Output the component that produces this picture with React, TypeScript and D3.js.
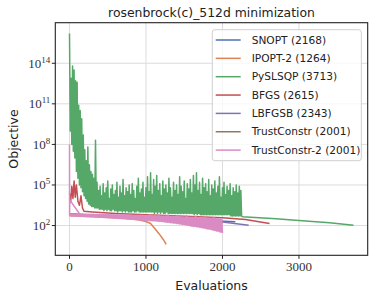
import React from "react";
import * as d3 from "d3";

// values are log10(objective)
const seriesNames = ["SNOPT (2168)", "IPOPT-2 (1264)", "PySLSQP (3713)", "BFGS (2615)", "LBFGSB (2343)", "TrustConstr (2001)", "TrustConstr-2 (2001)"];
const colors = ["#4C72B0", "#DD8452", "#55A868", "#C44E52", "#8172B3", "#937860", "#DA8BC3"];

const xTicks = [0, 1000, 2000, 3000];
const yTickExps = [2, 5, 8, 11, 14];

const snopt: [number, number][] = [[0, 2.85], [500, 2.72], [1000, 2.6], [1500, 2.47], [1800, 2.38], [2168, 2.28]];

const ipopt: [number, number][] = [[0, 2.72], [250, 2.66], [500, 2.6], [700, 2.54], [900, 2.42], [1000, 2.3], [1060, 2.15], [1120, 1.75], [1170, 1.4], [1210, 1.1], [1240, 0.85], [1264, 0.6]];

// PySLSQP sampled every 10 evaluations up to 2250, then the smooth tail
const slsqpStep = 10;
const slsqpNoisy = [
  16.2, 9.0, 12.9, 8.0, 13.8, 7.5, 13.5, 7.0, 12.7, 6.0, 12.6, 5.5, 10.9, 5.0, 10.5, 4.8, 9.9, 4.5, 8.7, 4.2,
  7.6, 4.0, 6.8, 3.8, 7.8, 3.6, 6.5, 3.5, 6.0, 3.4, 5.8, 3.4, 5.5, 3.3, 8.3, 3.3, 5.2, 3.3, 4.6, 3.2,
  4.9, 3.2, 4.2, 3.2, 5.1, 3.1, 4.4, 3.2, 4.8, 3.1, 5.3, 3.2, 4.0, 3.1, 4.7, 3.1, 5.0, 3.2, 4.3, 3.1,
  4.6, 3.1, 5.2, 3.0, 4.1, 3.1, 4.9, 3.1, 4.4, 3.0, 5.4, 3.1, 4.2, 3.0, 4.8, 3.1, 4.5, 3.0, 5.0, 3.0,
  4.3, 3.0, 5.1, 3.1, 4.6, 3.0, 4.0, 3.0, 4.9, 3.1, 5.5, 3.0, 4.4, 3.0, 4.7, 3.0, 5.2, 3.0, 4.1, 3.0,
  4.8, 3.0, 5.6, 3.0, 4.5, 3.0, 5.9, 3.0, 4.3, 3.0, 5.4, 2.9, 4.9, 3.0, 5.7, 2.9, 4.6, 3.0, 5.1, 2.9,
  4.2, 3.0, 5.3, 2.9, 4.7, 2.9, 5.0, 3.0, 4.4, 2.9, 5.5, 2.9, 4.8, 2.9, 4.1, 2.9, 5.2, 2.9, 4.6, 2.9,
  5.0, 2.9, 4.3, 2.9, 5.6, 2.9, 4.9, 2.9, 4.5, 2.9, 5.3, 2.9, 4.0, 2.9, 5.1, 2.9, 4.7, 2.9, 5.4, 2.9,
  4.4, 2.9, 5.7, 2.8, 5.0, 2.9, 5.9, 2.8, 4.6, 2.9, 5.2, 2.8, 4.3, 2.8, 5.5, 2.8, 4.8, 2.8, 5.1, 2.8,
  4.5, 2.8, 5.4, 2.8, 4.2, 2.8, 5.0, 2.8, 4.7, 2.8, 5.3, 2.8, 4.4, 2.8, 4.9, 2.8, 5.6, 2.8, 4.1, 2.8,
  4.8, 2.8, 5.2, 2.8, 4.3, 2.8, 4.9, 2.8, 4.6, 2.8, 5.1, 2.7, 4.2, 2.7, 4.8, 2.7, 4.5, 2.7, 5.0, 2.7,
  4.4, 2.7, 4.9, 2.7, 4.6, 2.7,
];
const slsqpTail: [number, number][] = [[2260, 2.65], [2700, 2.5], [3000, 2.37], [3400, 2.2], [3713, 2.02]];

const bfgs: [number, number][] = [[0, 4.4], [15, 3.7], [30, 4.9], [45, 4.0], [60, 5.3], [75, 4.1], [90, 5.0], [110, 3.8], [130, 3.5], [150, 4.2], [170, 3.3], [190, 3.05], [300, 3.0], [600, 2.9], [1000, 2.8], [1500, 2.68], [2000, 2.57], [2300, 2.45], [2615, 2.15]];

const lbfgsb: [number, number][] = [[0, 2.85], [1000, 2.65], [1500, 2.5], [2000, 2.27], [2343, 2.02]];

const trustConstr: [number, number][] = [[0, 2.8], [1000, 2.55], [2001, 2.2]];

const trust2Head: [number, number][] = [[0, 8.0], [1, 2.75], [3, 3.9], [140, 2.8]];
// TrustConstr-2 band, every 10 evaluations from 10 to 2000
const trust2Step = 10;
const trust2Band = [
  2.85, 2.71, 2.85, 2.70, 2.85, 2.70, 2.84, 2.70, 2.84, 2.69, 2.85, 2.69, 2.84, 2.68, 2.84, 2.68, 2.84, 2.67, 2.84, 2.66,
  2.83, 2.66, 2.83, 2.66, 2.83, 2.65, 2.83, 2.65, 2.83, 2.64, 2.83, 2.64, 2.82, 2.63, 2.82, 2.63, 2.82, 2.62, 2.82, 2.61,
  2.82, 2.61, 2.82, 2.60, 2.81, 2.60, 2.81, 2.59, 2.81, 2.58, 2.81, 2.58, 2.80, 2.57, 2.80, 2.56, 2.80, 2.55, 2.80, 2.54,
  2.80, 2.54, 2.80, 2.53, 2.79, 2.52, 2.79, 2.51, 2.79, 2.50, 2.79, 2.50, 2.78, 2.49, 2.78, 2.48, 2.78, 2.47, 2.78, 2.46,
  2.77, 2.46, 2.77, 2.45, 2.77, 2.44, 2.77, 2.43, 2.76, 2.42, 2.76, 2.42, 2.76, 2.41, 2.76, 2.40, 2.75, 2.39, 2.75, 2.38,
  2.74, 2.38, 2.74, 2.37, 2.80, 2.36, 2.73, 2.35, 2.73, 2.35, 2.73, 2.34, 2.72, 2.33, 2.72, 2.32, 2.78, 2.31, 2.71, 2.30,
  2.71, 2.29, 2.71, 2.27, 2.70, 2.26, 2.70, 2.24, 2.76, 2.23, 2.69, 2.21, 2.68, 2.20, 2.68, 2.18, 2.67, 2.17, 2.67, 2.15,
  2.74, 2.14, 2.66, 2.12, 2.65, 2.10, 2.65, 2.08, 2.64, 2.07, 2.64, 2.05, 2.72, 2.03, 2.63, 2.01, 2.62, 1.98, 2.62, 1.95,
  2.61, 1.94, 2.61, 1.93, 2.68, 1.91, 2.60, 1.89, 2.59, 1.87, 2.59, 1.85, 2.58, 1.83, 2.58, 1.81, 2.64, 1.78, 2.56, 1.75,
  2.55, 1.74, 2.55, 1.72, 2.54, 1.69, 2.54, 1.66, 2.60, 1.63, 2.52, 1.60, 2.50, 1.58, 2.50, 1.55, 2.48, 1.50, 2.47, 1.45,
];

const W = 374;
const H = 300;
const margin = { top: 22.7, right: 6.3, bottom: 44.7, left: 55.3 };

export default function App() {
  const x = d3.scaleLinear().domain([-185.65, 3898.65]).range([margin.left, W - margin.right]);
  const y = d3.scaleLog().domain([Math.pow(10, -0.2), Math.pow(10, 17)]).range([H - margin.bottom, margin.top]);

  const line = d3
    .line<[number, number]>()
    .x((d) => x(d[0]))
    .y((d) => y(Math.pow(10, d[1])));

  const slsqp: [number, number][] = slsqpNoisy.map((v, i) => [i * slsqpStep, v] as [number, number]).concat(slsqpTail);
  const trust2: [number, number][] = trust2Head.concat(trust2Band.map((v, i) => [(i + 1) * trust2Step, v] as [number, number]));

  const allSeries = [snopt, ipopt, slsqp, bfgs, lbfgsb, trustConstr, trust2];

  const x0 = margin.left;
  const x1 = W - margin.right;
  const y0 = margin.top;
  const y1 = H - margin.bottom;
  const serif = "'Liberation Serif', 'DejaVu Serif', serif";
  const sans = "'DejaVu Sans', sans-serif";

  const legendX = 212.3;
  const legendY = 29.7;
  const rowH = 18.35;

  return (
    <svg width={W} height={H} style={{ position: "absolute", left: 0, top: 0, background: "#fff" }}>
      <defs>
        <clipPath id="plotClip">
          <rect x={x0} y={y0} width={x1 - x0} height={y1 - y0} />
        </clipPath>
      </defs>
      {/* grid */}
      {xTicks.map((t) => (
        <line key={"gx" + t} x1={x(t)} x2={x(t)} y1={y0} y2={y1} stroke="#dcdcdc" strokeWidth={1} />
      ))}
      {yTickExps.map((e) => (
        <line key={"gy" + e} x1={x0} x2={x1} y1={y(Math.pow(10, e))} y2={y(Math.pow(10, e))} stroke="#dcdcdc" strokeWidth={1} />
      ))}

      <g clipPath="url(#plotClip)">
        {allSeries.map((s, i) => (
          <path key={i} d={line(s) || ""} fill="none" stroke={colors[i]} strokeWidth={1.5} strokeLinejoin="round" />
        ))}
      </g>

      {/* frame */}
      <rect x={x0} y={y0} width={x1 - x0} height={y1 - y0} fill="none" stroke="#222" strokeWidth={1.1} />

      {/* x ticks */}
      {xTicks.map((t) => (
        <g key={"xt" + t}>
          <line x1={x(t)} x2={x(t)} y1={y1} y2={y1 + 3.5} stroke="#222" strokeWidth={1} />
          <text x={x(t)} y={y1 + 16} textAnchor="middle" fontFamily={serif} fontSize={13} fill="#333">
            {t}
          </text>
        </g>
      ))}
      {/* y ticks */}
      {yTickExps.map((e) => (
        <g key={"yt" + e}>
          <line x1={x0 - 3.5} x2={x0} y1={y(Math.pow(10, e))} y2={y(Math.pow(10, e))} stroke="#222" strokeWidth={1} />
          <text x={x0 - 5} y={y(Math.pow(10, e)) + 4.5} textAnchor="end" fontFamily={serif} fontSize={13} fill="#333">
            10<tspan dy={-5} fontSize={9}>{e}</tspan>
          </text>
        </g>
      ))}

      {/* labels */}
      <text x={(x0 + x1) / 2} y={17} textAnchor="middle" fontFamily={sans} fontSize={12.4} fill="#222">
        rosenbrock(c)_512d minimization
      </text>
      <text x={(x0 + x1) / 2} y={290} textAnchor="middle" fontFamily={sans} fontSize={12.5} fill="#222">
        Evaluations
      </text>
      <text transform={`translate(18, ${(y0 + y1) / 2}) rotate(-90)`} textAnchor="middle" fontFamily={sans} fontSize={12.5} fill="#222">
        Objective
      </text>

      {/* legend */}
      <rect x={legendX} y={legendY} width={149} height={131} rx={2.5} fill="#fff" fillOpacity={0.8} stroke="#d0d0d0" strokeWidth={1} />
      {seriesNames.map((n, i) => (
        <g key={n}>
          <line x1={215.7} x2={240.7} y1={legendY + 10.3 + i * rowH} y2={legendY + 10.3 + i * rowH} stroke={colors[i]} strokeWidth={1.5} />
          <text x={251.7} y={legendY + 14 + i * rowH} fontFamily={sans} fontSize={10.6} fill="#222">
            {n}
          </text>
        </g>
      ))}
    </svg>
  );
}
